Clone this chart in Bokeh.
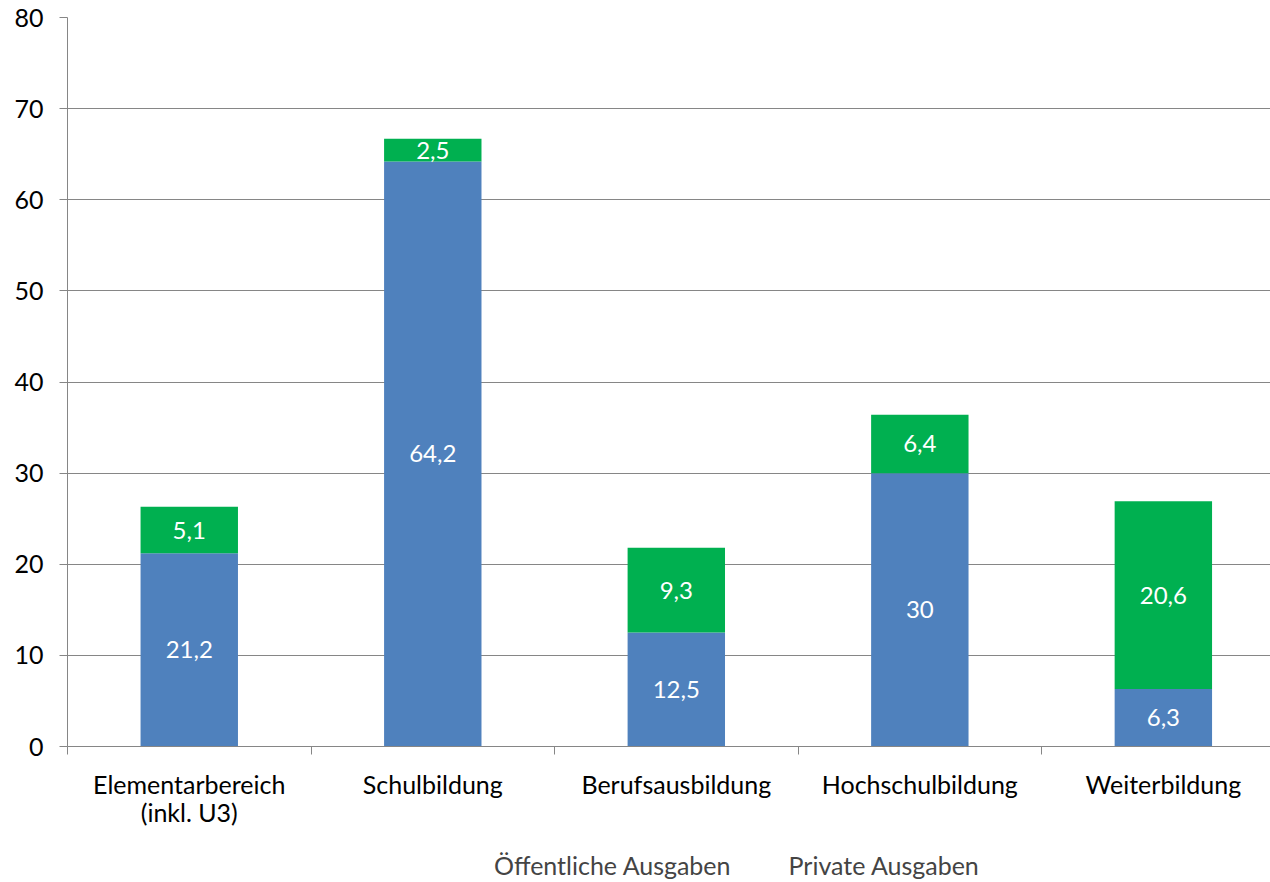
from bokeh.plotting import figure
from bokeh.layouts import column
from bokeh.models import ColumnDataSource, FixedTicker, Legend, LegendItem
from bokeh.core.properties import value
from bokeh.embed import file_html
from bokeh.resources import INLINE

categories = ["Elementarbereich\n(inkl. U3)", "Schulbildung", "Berufsausbildung", "Hochschulbildung", "Weiterbildung"]
oeffentlich = [21.2, 64.2, 12.5, 30.0, 6.3]
privat = [5.1, 2.5, 9.3, 6.4, 20.6]
oeff_labels = ["21,2", "64,2", "12,5", "30", "6,3"]
priv_labels = ["5,1", "2,5", "9,3", "6,4", "20,6"]
series_names = ["Öffentliche Ausgaben", "Private Ausgaben"]
y_ticks = [0, 10, 20, 30, 40, 50, 60, 70, 80]

BLUE = "#4F81BD"
GREEN = "#00B050"
GRID = "#868686"
FONT = "Lato"
FS = "25px"

x = list(range(len(categories)))
src = ColumnDataSource(dict(
    x=x,
    oe=oeffentlich,
    pr=privat,
    top=[a + b for a, b in zip(oeffentlich, privat)],
    oe_mid=[a / 2 for a in oeffentlich],
    pr_mid=[a + b / 2 for a, b in zip(oeffentlich, privat)],
    oe_lab=oeff_labels,
    pr_lab=priv_labels,
))

p = figure(width=1270, height=848, x_range=(-0.5, 4.44), y_range=(0, 80),
           output_backend="svg", toolbar_location=None,
           min_border_left=67, min_border_right=0, min_border_top=17, min_border_bottom=102)
p.outline_line_color = None
p.background_fill_color = "white"

p.vbar(x="x", bottom=0, top="oe", width=0.4, color=BLUE, line_color=None, source=src)
p.vbar(x="x", bottom="oe", top="top", width=0.4, color=GREEN, line_color=None, source=src)

p.text(x="x", y="oe_mid", text="oe_lab", source=src, text_color="white",
       text_align="center", text_baseline="middle", text_font=value(FONT), text_font_size="24px")
p.text(x="x", y="pr_mid", text="pr_lab", source=src, text_color="white",
       text_align="center", text_baseline="middle", text_font=value(FONT), text_font_size="24px")

# y axis
p.yaxis.ticker = FixedTicker(ticks=y_ticks)
p.yaxis.axis_line_color = GRID
p.yaxis.major_tick_line_color = GRID
p.yaxis.major_tick_out = 8
p.yaxis.major_tick_in = 0
p.yaxis.minor_tick_line_color = None
p.yaxis.major_label_standoff = 16
p.yaxis.major_label_text_font = FONT
p.yaxis.major_label_text_font_size = FS
p.yaxis.major_label_text_color = "black"

# x axis
p.xaxis.ticker = FixedTicker(ticks=x, minor_ticks=[-0.5, 0.5, 1.5, 2.5, 3.5, 4.5])
p.xaxis.major_label_overrides = {i: c for i, c in enumerate(categories)}
p.xaxis.axis_line_color = GRID
p.xaxis.major_tick_line_color = None
p.xaxis.major_tick_out = 0
p.xaxis.major_tick_in = 0
p.xaxis.minor_tick_line_color = GRID
p.xaxis.minor_tick_out = 8
p.xaxis.minor_tick_in = 0
p.xaxis.major_label_standoff = 14
p.xaxis.major_label_text_font = FONT
p.xaxis.major_label_text_font_size = FS
p.xaxis.major_label_text_line_height = 0.95
p.xaxis.major_label_text_color = "black"

p.xgrid.grid_line_color = None
p.ygrid.grid_line_color = GRID
p.ygrid.grid_line_width = 1

# legend in its own strip below the chart
lf = figure(width=1270, height=34, output_backend="svg", toolbar_location=None,
            x_axis_type=None, y_axis_type=None, min_border=0,
            min_border_left=0, min_border_right=0, min_border_top=0, min_border_bottom=0)
lf.outline_line_color = None
empty = ColumnDataSource(dict(x=[], top=[]))
l1 = lf.vbar(x="x", top="top", width=0.4, color=BLUE, line_color=None, source=empty)
l2 = lf.vbar(x="x", top="top", width=0.4, color=GREEN, line_color=None, source=empty)

legend = Legend(items=[LegendItem(label=series_names[0], renderers=[l1]),
                       LegendItem(label=series_names[1], renderers=[l2])],
                orientation="horizontal", location=(407, 2),
                label_text_font=FONT, label_text_font_size=FS,
                glyph_width=14, glyph_height=14, label_standoff=6, spacing=38,
                border_line_color=None, background_fill_alpha=0,
                margin=0, padding=0)
lf.add_layout(legend, "center")

open("out.html", "w").write(file_html(column(p, lf), INLINE))
